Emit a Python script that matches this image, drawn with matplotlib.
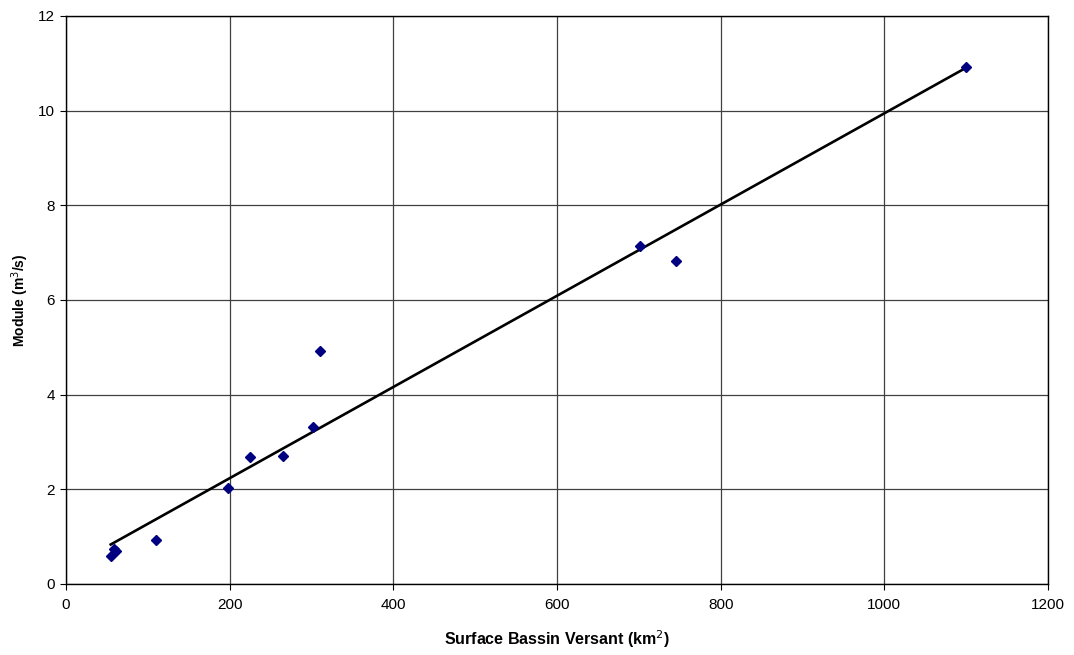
import numpy as np
import matplotlib.pyplot as plt

plt.rcParams['font.family'] = ['Liberation Sans', 'DejaVu Sans']

# Données
surface = [54.6, 58.7, 61.5, 110, 198, 225, 265, 301.6, 310.5, 700.8, 744.9, 1100]
module = [0.59, 0.73, 0.70, 0.94, 2.02, 2.69, 2.71, 3.31, 4.92, 7.15, 6.82, 10.92]

x = np.array(surface)
y = np.array(module)

# Droite de tendance (régression linéaire)
a, b = np.polyfit(x, y, 1)
xl = np.array([x.min(), x.max()])

fig = plt.figure(figsize=(10.74, 6.55), dpi=100)
ax = fig.add_axes([0.0615, 0.1084, 0.9143, 0.8672])

ax.plot(xl, a * xl + b, color='black', linewidth=1.9, zorder=3)
ax.plot(x, y, linestyle='none', marker='D', markersize=5,
        color='#000080', zorder=4)

ax.set_xlim(0, 1200)
ax.set_ylim(0, 12)
ax.set_xticks(np.arange(0, 1201, 200))
ax.set_yticks(np.arange(0, 13, 2))
ax.grid(True, color='#404040', linewidth=0.9)
ax.set_axisbelow(True)
for s in ax.spines.values():
    s.set_color('black')
    s.set_linewidth(1.0)
ax.tick_params(direction='out', length=4, width=0.8, labelsize=11, pad=6)
ax.tick_params(axis='y', pad=4)

ax.set_xlabel('Surface Bassin Versant (km$^2$)', fontsize=11.5, fontweight='bold', labelpad=12)
ax.set_ylabel('Module (m$^3$/s)', fontsize=10, fontweight='bold', labelpad=5)

fig.savefig('out.png', dpi=100)
